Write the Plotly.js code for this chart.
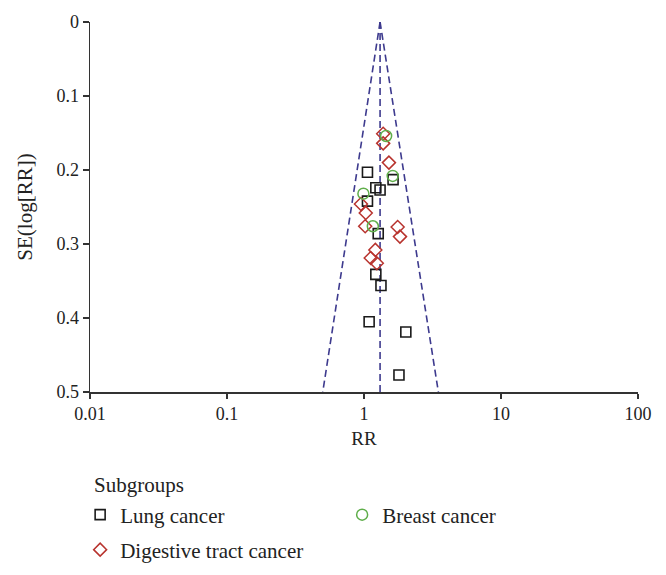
<!DOCTYPE html>
<html>
<head>
<meta charset="utf-8">
<script src="https://cdn.plot.ly/plotly-3.0.1.min.js"></script>
<style>html,body{margin:0;padding:0;background:#fff;}#chart{width:666px;height:575px;}</style>
</head>
<body>
<div id="chart"></div>
<script>
// Lung cancer (RR, SE)
const lungRR = [1.06, 1.63, 1.22, 1.31, 1.06, 1.27, 1.22, 1.33, 1.09, 2.02, 1.80];
const lungSE = [0.203, 0.213, 0.224, 0.227, 0.242, 0.286, 0.341, 0.356, 0.405, 0.419, 0.477];
// Digestive tract cancer
const digRR = [1.38, 1.38, 1.52, 0.95, 1.03, 1.02, 1.76, 1.83, 1.21, 1.12, 1.24];
const digSE = [0.151, 0.164, 0.190, 0.246, 0.258, 0.276, 0.277, 0.290, 0.308, 0.319, 0.326];
// Breast cancer
const breastRR = [1.45, 1.62, 0.99, 1.16];
const breastSE = [0.154, 0.208, 0.232, 0.276];
// Funnel (pseudo 95% limits)
const funnelLeftRR = [1.31, 0.50];
const funnelLeftSE = [0, 0.5];
const funnelRightRR = [1.31, 3.49];
const funnelRightSE = [0, 0.5];
const centerRR = [1.31, 1.31];
const centerSE = [0, 0.5];
const xTicks = [0.01, 0.1, 1, 10, 100];
const xTickText = ['0.01', '0.1', '1', '10', '100'];

const FONT = 'Liberation Serif, Times New Roman, serif';
const dashColor = '#3d3a8e';
const dashLine = {color: dashColor, width: 1.6, dash: '7px,4px'};

const traces = [
  {x: funnelLeftRR, y: funnelLeftSE, mode: 'lines', line: dashLine, showlegend: false, hoverinfo: 'skip'},
  {x: funnelRightRR, y: funnelRightSE, mode: 'lines', line: dashLine, showlegend: false, hoverinfo: 'skip'},
  {x: centerRR, y: centerSE, mode: 'lines', line: dashLine, showlegend: false, hoverinfo: 'skip'},
  {x: lungRR, y: lungSE, mode: 'markers', name: 'Lung cancer', legend: 'legend', legendrank: 1,
   marker: {symbol: 'square-open', size: 10, color: '#1a1a1a', line: {width: 1.6}}},
  {x: digRR, y: digSE, mode: 'markers', name: 'Digestive tract cancer', legend: 'legend2',
   marker: {symbol: 'diamond-open', size: 10, color: '#b8332e', line: {width: 1.5}}},
  {x: breastRR, y: breastSE, mode: 'markers', name: 'Breast cancer', legend: 'legend', legendrank: 2,
   marker: {symbol: 'circle-open', size: 11, color: '#5fae4a', line: {width: 1.5}}}
];

const legendCommon = {
  orientation: 'h', xanchor: 'left', yanchor: 'middle', traceorder: 'normal',
  font: {size: 21, family: FONT, color: '#222'}, bgcolor: 'rgba(0,0,0,0)'
};

const layout = {
  width: 666, height: 575,
  margin: {l: 90, r: 28, t: 22, b: 183, autoexpand: false},
  paper_bgcolor: '#fff', plot_bgcolor: '#fff',
  font: {family: FONT, color: '#222', size: 18},
  xaxis: {
    type: 'log', range: [-2, 2], tickvals: xTicks, ticktext: xTickText,
    showgrid: false, zeroline: false, showline: true, linecolor: '#333', linewidth: 1.5,
    ticks: 'outside', ticklen: 5, tickcolor: '#333', tickwidth: 1.2,
    tickfont: {size: 18}, automargin: false,
    title: {text: 'RR', font: {size: 19}, standoff: 8}
  },
  yaxis: {
    range: [0.5, 0], dtick: 0.1, tick0: 0,
    showgrid: false, zeroline: false, showline: true, linecolor: '#333', linewidth: 1.5,
    ticks: 'outside', ticklen: 6, tickcolor: '#333', tickwidth: 1.2,
    tickfont: {size: 18}, automargin: false,
    title: {text: 'SE(log[RR])', font: {size: 21}, standoff: 18}
  },
  showlegend: true,
  legend: Object.assign({}, legendCommon, {x: -0.018, y: -0.3324, entrywidth: 217}),
  legend2: Object.assign({}, legendCommon, {x: -0.018, y: -0.427}),
  annotations: [{
    text: 'Subgroups', xref: 'paper', yref: 'paper', x: 0.0036, y: -0.2514,
    xanchor: 'left', yanchor: 'middle', showarrow: false,
    font: {size: 21, family: FONT, color: '#222'}
  }]
};

Plotly.newPlot('chart', traces, layout, {displayModeBar: false, staticPlot: true});
</script>
</body>
</html>
